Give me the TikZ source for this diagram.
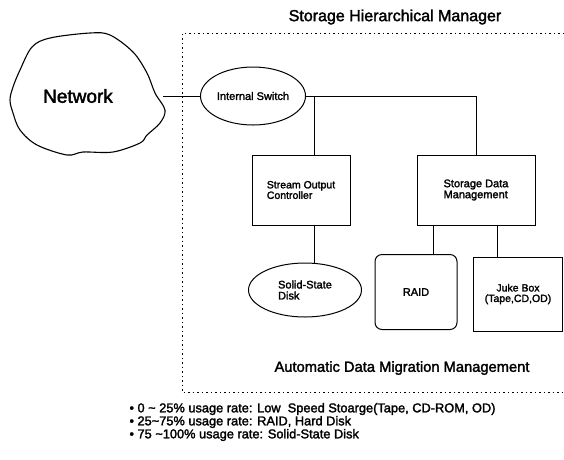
\documentclass[tikz,border=0pt]{standalone}
\usepackage{fontspec}
\setmainfont{Liberation Sans}[FakeBold=2]
\usetikzlibrary{shapes.geometric}
\tikzset{
  unit/.style={draw,line width=1pt,minimum width=#1,minimum height=70pt,inner sep=0pt},
  blob/.style={draw,line width=1pt,ellipse,inner sep=0pt},
  txt/.style={font=\fontsize{#1}{#1}\selectfont},
  frame/.style={line width=.8pt,dash pattern=on 1.5pt off 3pt},
}
\newcommand{\tld}{{\char`\~}}
\begin{document}
\begin{tikzpicture}[x=1pt,y=-1pt,line width=1pt]
\useasboundingbox (0,0) rectangle (564,459);
% cloud
\draw[line width=1.1pt] plot[smooth cycle,tension=.55] coordinates{
	(32,47)(50,38)(90,33)(110,35)(133,52)(147,73)(155,93)(165,110)
	(160,123)(147,135)(140,143)(113,152)(83,152)(67,155)(37,145)
	(20,130)(13,113)(10,100)(13,87)(20,70)};
\node[txt=19] (net) at (78,96) {Network};
\coordinate (netR) at (163,96);
% frame
\node[txt=16] (shm) at (395,17) {Storage Hierarchical Manager};
\draw[frame] (564,33) -- (182,33) -- (182,392) -- (564,392);
\node[txt=14.7] (adm) at (402,368) {Automatic Data Migration Management};
% units
\node[blob,minimum width=105pt,minimum height=58pt,txt=11] (sw) at (253,96) {Internal Switch};
\node[unit=98pt,txt=10.5,align=left] (soc) at (301,190) {Stream Output\\Controller};
\node[unit=118pt,txt=11,align=left] (sdm) at (476,190) {Storage Data\\Management};
\node[blob,minimum width=113pt,minimum height=54pt,txt=11,align=left] (ssd) at (305,290) {Solid-State\\Disk};
\node[unit=82pt,minimum height=75pt,rounded corners=7pt,txt=11] (raid) at (416,292) {RAID};
\node[unit=89pt,minimum height=74pt,txt=10.5,align=center] (juke) at (518,294) {Juke Box\\(Tape,CD,OD)};
\coordinate (tap) at (314,96);
% links
\draw (netR) -- (sw.west);
\draw (sw.east) -| (sdm.north);
\draw (tap) -- (tap |- soc.north);
\draw (tap |- soc.south) -- (tap |- ssd.north);
\draw ([xshift=17pt]raid.north) -- ([xshift=17pt]raid.north |- sdm.south);
\draw ([xshift=-21pt]juke.north) -- ([xshift=-21pt]juke.north |- sdm.south);
% notes
\node[txt=12.8,anchor=west,inner sep=0pt] (r1) at (129,409) {• 0 \tld\ 25\% usage rate: Low\ \ Speed Stoarge(Tape, CD-ROM, OD)};
\node[txt=12.8,anchor=west,inner sep=0pt] (r2) at (129,422) {• 25\tld75\% usage rate: RAID, Hard Disk};
\node[txt=12.8,anchor=west,inner sep=0pt] (r3) at (129,435) {• 75 \tld100\% usage rate: Solid-State Disk};
\end{tikzpicture}
\end{document}
